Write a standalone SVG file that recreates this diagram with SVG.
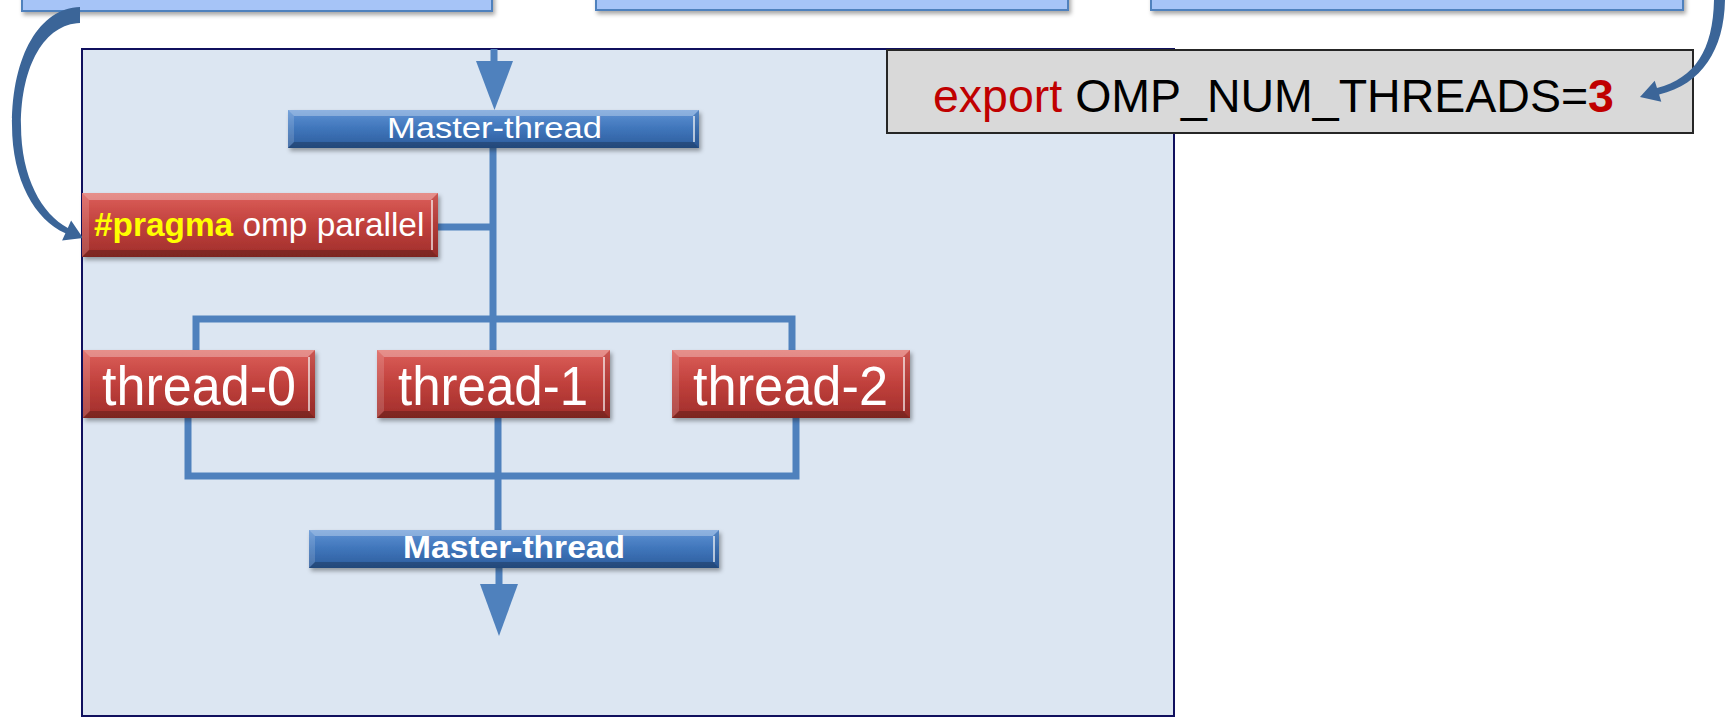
<svg xmlns="http://www.w3.org/2000/svg" width="1727" height="717" viewBox="0 0 1727 717">
<style>
.topbox{fill:#a6c4f7;stroke:#4f81bd;stroke-width:2}
.conn{stroke:#4f81bd;stroke-width:7;fill:none}
.arrowfill{fill:#4f81bd}
.curve{fill:#3b6598}
.txt{font-family:"Liberation Sans",Arial,sans-serif}
.hiT{fill:#ffffff;fill-opacity:0.3}
.hiL{fill:#ffffff;fill-opacity:0.15}
.shB{fill:#000000;fill-opacity:0.22}
.shR{fill:#000000;fill-opacity:0.08}
.hiLine{stroke:#ffffff;stroke-opacity:0.85;stroke-width:1.5}
</style>
<defs>
<linearGradient id="gBlue" x1="0" y1="0" x2="0" y2="1">
<stop offset="0" stop-color="#5e92d4"/>
<stop offset="0.5" stop-color="#3f75ba"/>
<stop offset="1" stop-color="#2d5c9c"/>
</linearGradient>
<linearGradient id="gRed" x1="0" y1="0" x2="0" y2="1">
<stop offset="0" stop-color="#dc5f5a"/>
<stop offset="0.5" stop-color="#c0403c"/>
<stop offset="1" stop-color="#a02f2b"/>
</linearGradient>
<filter id="shadow" x="-10%" y="-30%" width="120%" height="170%">
<feDropShadow dx="2" dy="3" stdDeviation="2" flood-color="#000" flood-opacity="0.35"/>
</filter>
</defs>

<rect width="1727" height="717" fill="#ffffff"/>

<!-- top boxes -->
<g id="topbox-left"><rect class="topbox" x="22" y="-20" width="470" height="31" filter="url(#shadow)"/></g>
<g id="topbox-middle"><rect class="topbox" x="596" y="-20" width="472" height="30" filter="url(#shadow)"/></g>
<g id="topbox-right"><rect class="topbox" x="1151" y="-20" width="532" height="30" filter="url(#shadow)"/></g>

<!-- panel -->
<g id="panel"><rect x="82" y="49" width="1092" height="667" fill="#dce6f2" stroke="#10105e" stroke-width="2"/></g>

<!-- export box -->
<g id="export">
<rect x="887" y="50" width="806" height="83" fill="#d9d9d9" stroke="#262626" stroke-width="2"/>
<text class="txt" x="933" y="112" font-size="46.5"><tspan fill="#c00000">export</tspan><tspan fill="#000000"> OMP_NUM_THREADS=</tspan><tspan fill="#c00000" font-weight="bold">3</tspan></text>
</g>

<!-- connectors -->
<g id="connectors">
<rect class="arrowfill" x="490.5" y="49" width="7" height="14"/>
<polygon class="arrowfill" points="476,61 513,61 494.5,110"/>
<line class="conn" x1="493" y1="148" x2="493" y2="322"/>
<line class="conn" x1="438" y1="227" x2="493" y2="227"/>
<polyline class="conn" points="196,350 196,319 792,319 792,350"/>
<line class="conn" x1="493" y1="319" x2="493" y2="350"/>
<polyline class="conn" points="188,418 188,476 796,476 796,418"/>
<line class="conn" x1="498" y1="418" x2="498" y2="530"/>
<rect class="arrowfill" x="495.5" y="568" width="7" height="18"/>
<polygon class="arrowfill" points="480,584 518,584 499,636"/>
<path class="curve" d="M80,7 C40,8 12,55 12,125 C12,180 35,220 65.4,233.3 L62.1,240.6 L83,238 L71.1,220.6 L67.8,227.9 C42,214 21,178 21,125 C21,65 45,24 80,23 Z"/>
<path class="curve" d="M1714,0 C1713,50 1695,78 1657,88 L1654.7,80.8 L1640,97 L1661.3,101.8 L1659.1,94.6 C1702,84 1724,50 1725,0 Z"/>
</g>

<!-- master top -->
<g id="master-top" transform="translate(288,110)">
<rect width="411" height="38" fill="url(#gBlue)" filter="url(#shadow)"/>
<polygon class="hiT" points="0,0 411,0 405,6 6,6"/>
<polygon class="hiL" points="0,0 6,6 6,32 0,38"/>
<polygon class="shB" points="0,38 6,32 405,32 411,38"/>
<polygon class="shR" points="411,0 411,38 405,32 405,6"/>
<line class="hiLine" x1="406" y1="6" x2="406" y2="32"/>
<text class="txt" x="206.5" y="28" font-size="30" fill="#ffffff" text-anchor="middle" textLength="215" lengthAdjust="spacingAndGlyphs">Master-thread</text>
</g>

<!-- pragma -->
<g id="pragma" transform="translate(82,193)">
<rect width="356" height="64" fill="url(#gRed)" filter="url(#shadow)"/>
<polygon class="hiT" points="0,0 356,0 349,7 7,7"/>
<polygon class="hiL" points="0,0 7,7 7,57 0,64"/>
<polygon class="shB" points="0,64 7,57 349,57 356,64"/>
<polygon class="shR" points="356,0 356,64 349,57 349,7"/>
<line class="hiLine" x1="350" y1="7" x2="350" y2="57"/>
<text class="txt" x="12" y="43" font-size="33.4"><tspan fill="#ffff00" font-weight="bold">#pragma</tspan><tspan fill="#ffffff"> omp parallel</tspan></text>
</g>

<!-- threads -->
<g id="thread-0" transform="translate(83,350)">
<rect width="232" height="68" fill="url(#gRed)" filter="url(#shadow)"/>
<polygon class="hiT" points="0,0 232,0 225,7 7,7"/>
<polygon class="hiL" points="0,0 7,7 7,61 0,68"/>
<polygon class="shB" points="0,68 7,61 225,61 232,68"/>
<polygon class="shR" points="232,0 232,68 225,61 225,7"/>
<line class="hiLine" x1="226" y1="7" x2="226" y2="61"/>
<text class="txt" x="116" y="55" font-size="56" fill="#ffffff" text-anchor="middle" textLength="194" lengthAdjust="spacingAndGlyphs">thread-0</text>
</g>
<g id="thread-1" transform="translate(377,350)">
<rect width="233" height="68" fill="url(#gRed)" filter="url(#shadow)"/>
<polygon class="hiT" points="0,0 233,0 226,7 7,7"/>
<polygon class="hiL" points="0,0 7,7 7,61 0,68"/>
<polygon class="shB" points="0,68 7,61 226,61 233,68"/>
<polygon class="shR" points="233,0 233,68 226,61 226,7"/>
<line class="hiLine" x1="227" y1="7" x2="227" y2="61"/>
<text class="txt" x="116" y="55" font-size="56" fill="#ffffff" text-anchor="middle" textLength="190" lengthAdjust="spacingAndGlyphs">thread-1</text>
</g>
<g id="thread-2" transform="translate(672,350)">
<rect width="238" height="68" fill="url(#gRed)" filter="url(#shadow)"/>
<polygon class="hiT" points="0,0 238,0 231,7 7,7"/>
<polygon class="hiL" points="0,0 7,7 7,61 0,68"/>
<polygon class="shB" points="0,68 7,61 231,61 238,68"/>
<polygon class="shR" points="238,0 238,68 231,61 231,7"/>
<line class="hiLine" x1="232" y1="7" x2="232" y2="61"/>
<text class="txt" x="118.5" y="55" font-size="56" fill="#ffffff" text-anchor="middle" textLength="195" lengthAdjust="spacingAndGlyphs">thread-2</text>
</g>

<!-- master bottom -->
<g id="master-bottom" transform="translate(309,530)">
<rect width="410" height="38" fill="url(#gBlue)" filter="url(#shadow)"/>
<polygon class="hiT" points="0,0 410,0 404,6 6,6"/>
<polygon class="hiL" points="0,0 6,6 6,32 0,38"/>
<polygon class="shB" points="0,38 6,32 404,32 410,38"/>
<polygon class="shR" points="410,0 410,38 404,32 404,6"/>
<line class="hiLine" x1="405" y1="6" x2="405" y2="32"/>
<text class="txt" x="205" y="28" font-size="31" font-weight="bold" fill="#ffffff" text-anchor="middle" textLength="222" lengthAdjust="spacingAndGlyphs">Master-thread</text>
</g>
</svg>
